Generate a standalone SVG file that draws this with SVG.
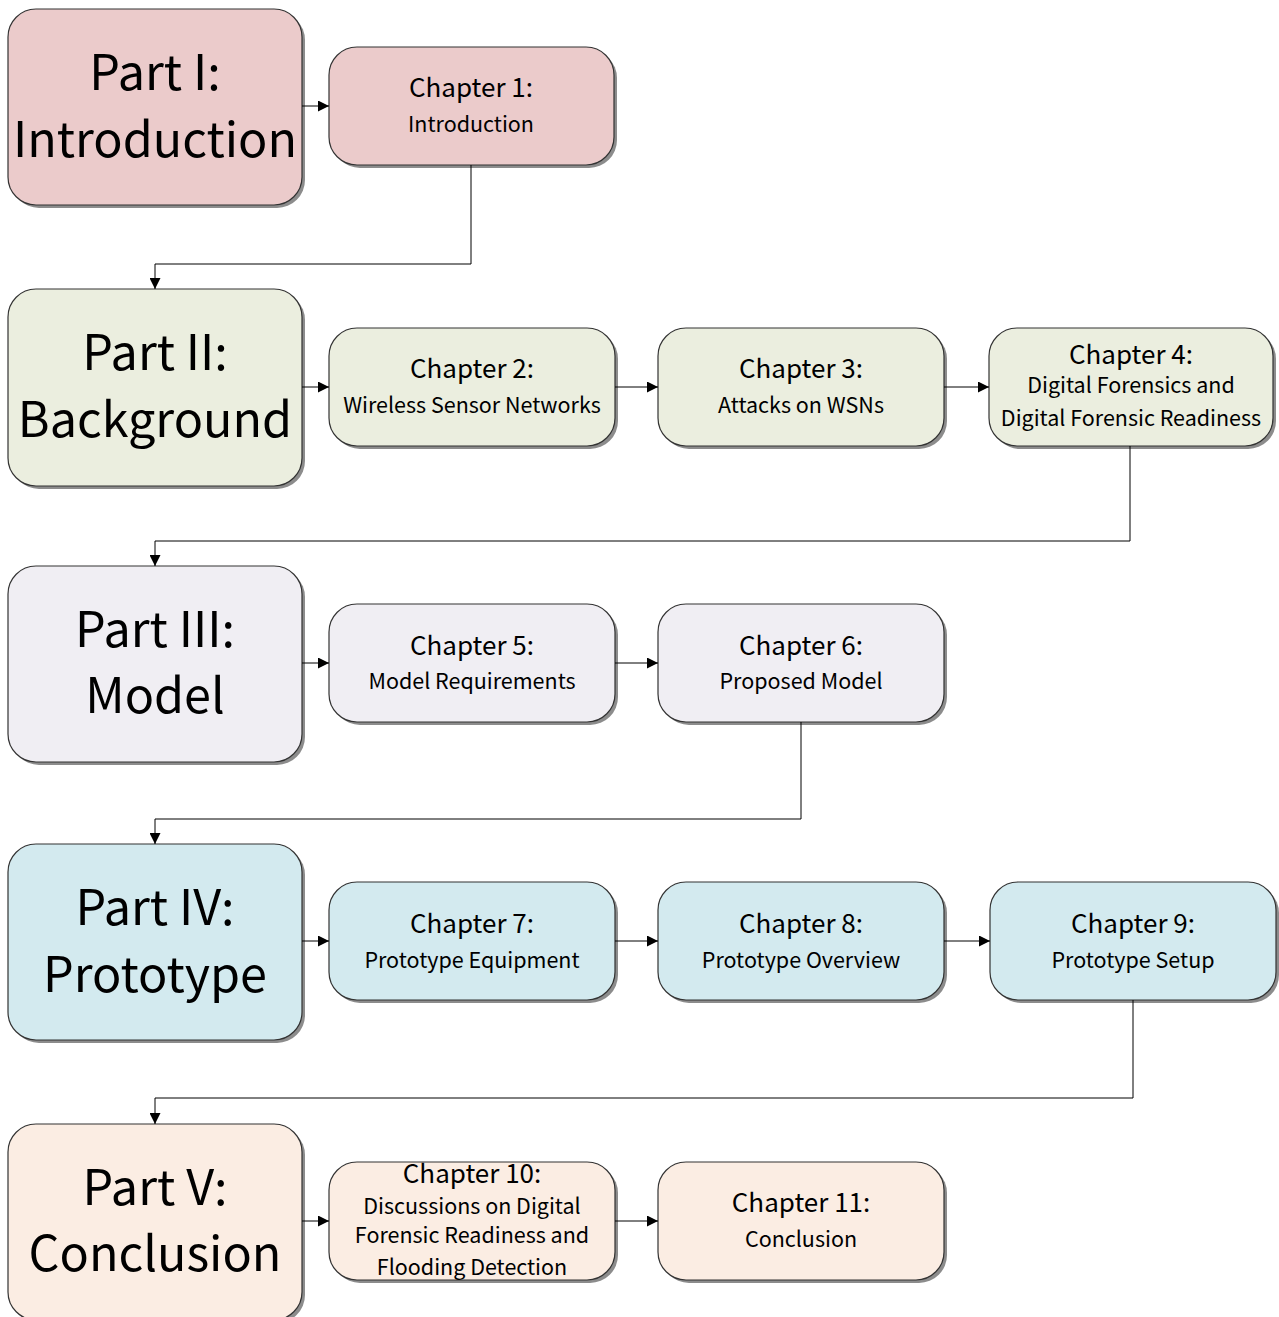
<svg xmlns="http://www.w3.org/2000/svg" width="1279" height="1317" viewBox="0 0 1279 1317">
  <defs>
    <marker id="arrow" viewBox="0 0 10 10" refX="10" refY="5" markerWidth="11" markerHeight="11" markerUnits="userSpaceOnUse" orient="auto">
      <path d="M0,0 L10,5 L0,10 z" fill="#000"/>
    </marker>
  </defs>
  <style>
    .shadow { fill: #8c8c8c; }
    .box { stroke: #333; stroke-width: 1.2; }
    .p1 { fill: #ebcbcb; }
    .p2 { fill: #ebeedf; }
    .p3 { fill: #f0eef3; }
    .p4 { fill: #d3eaef; }
    .p5 { fill: #fbede3; }
    text { font-family: "Noto Sans CJK JP", "DejaVu Sans", sans-serif; fill: #000; text-anchor: middle; }
    .pt { font-size: 48.5px; }
    .ct { font-size: 26px; }
    .cs { font-size: 21.5px; }
    .conn { fill: none; stroke: #000; stroke-width: 1; marker-end: url(#arrow); }
  </style>

  <!-- Part I -->
  <g id="part1">
    <rect class="shadow" x="11" y="12" width="294" height="196" rx="28"/>
    <rect class="box p1" x="8" y="9" width="294" height="196" rx="28"/>
    <text class="pt" x="155" y="90">Part I:</text>
    <text class="pt" x="155" y="157">Introduction</text>
  </g>
  <g id="ch1">
    <rect class="shadow" x="332" y="50" width="285" height="118" rx="28"/>
    <rect class="box p1" x="329" y="47" width="285" height="118" rx="28"/>
    <text class="ct" x="471" y="97">Chapter 1:</text>
    <text class="cs" x="471" y="132">Introduction</text>
  </g>

  <!-- Part II -->
  <g id="part2">
    <rect class="shadow" x="11" y="292" width="294" height="197" rx="28"/>
    <rect class="box p2" x="8" y="289" width="294" height="197" rx="28"/>
    <text class="pt" x="155" y="370">Part II:</text>
    <text class="pt" x="155" y="437">Background</text>
  </g>
  <g id="ch2">
    <rect class="shadow" x="332" y="331" width="286" height="118" rx="28"/>
    <rect class="box p2" x="329" y="328" width="286" height="118" rx="28"/>
    <text class="ct" x="472" y="378">Chapter 2:</text>
    <text class="cs" x="472" y="413">Wireless Sensor Networks</text>
  </g>
  <g id="ch3">
    <rect class="shadow" x="661" y="331" width="286" height="118" rx="28"/>
    <rect class="box p2" x="658" y="328" width="286" height="118" rx="28"/>
    <text class="ct" x="801" y="378">Chapter 3:</text>
    <text class="cs" x="801" y="413">Attacks on WSNs</text>
  </g>
  <g id="ch4">
    <rect class="shadow" x="992" y="331" width="284" height="118" rx="28"/>
    <rect class="box p2" x="989" y="328" width="284" height="118" rx="28"/>
    <text class="ct" x="1131" y="364">Chapter 4:</text>
    <text class="cs" x="1131" y="393">Digital Forensics and</text>
    <text class="cs" x="1131" y="426">Digital Forensic Readiness</text>
  </g>

  <!-- Part III -->
  <g id="part3">
    <rect class="shadow" x="11" y="569" width="294" height="196" rx="28"/>
    <rect class="box p3" x="8" y="566" width="294" height="196" rx="28"/>
    <text class="pt" x="155" y="647">Part III:</text>
    <text class="pt" x="155" y="713">Model</text>
  </g>
  <g id="ch5">
    <rect class="shadow" x="332" y="607" width="286" height="118" rx="28"/>
    <rect class="box p3" x="329" y="604" width="286" height="118" rx="28"/>
    <text class="ct" x="472" y="655">Chapter 5:</text>
    <text class="cs" x="472" y="689">Model Requirements</text>
  </g>
  <g id="ch6">
    <rect class="shadow" x="661" y="607" width="286" height="118" rx="28"/>
    <rect class="box p3" x="658" y="604" width="286" height="118" rx="28"/>
    <text class="ct" x="801" y="655">Chapter 6:</text>
    <text class="cs" x="801" y="689">Proposed Model</text>
  </g>

  <!-- Part IV -->
  <g id="part4">
    <rect class="shadow" x="11" y="847" width="294" height="196" rx="28"/>
    <rect class="box p4" x="8" y="844" width="294" height="196" rx="28"/>
    <text class="pt" x="155" y="925">Part IV:</text>
    <text class="pt" x="155" y="992">Prototype</text>
  </g>
  <g id="ch7">
    <rect class="shadow" x="332" y="885" width="286" height="118" rx="28"/>
    <rect class="box p4" x="329" y="882" width="286" height="118" rx="28"/>
    <text class="ct" x="472" y="933">Chapter 7:</text>
    <text class="cs" x="472" y="968">Prototype Equipment</text>
  </g>
  <g id="ch8">
    <rect class="shadow" x="661" y="885" width="286" height="118" rx="28"/>
    <rect class="box p4" x="658" y="882" width="286" height="118" rx="28"/>
    <text class="ct" x="801" y="933">Chapter 8:</text>
    <text class="cs" x="801" y="968">Prototype Overview</text>
  </g>
  <g id="ch9">
    <rect class="shadow" x="993" y="885" width="286" height="118" rx="28"/>
    <rect class="box p4" x="990" y="882" width="286" height="118" rx="28"/>
    <text class="ct" x="1133" y="933">Chapter 9:</text>
    <text class="cs" x="1133" y="968">Prototype Setup</text>
  </g>

  <!-- Part V -->
  <g id="part5">
    <rect class="shadow" x="11" y="1127" width="294" height="196" rx="28"/>
    <rect class="box p5" x="8" y="1124" width="294" height="196" rx="28"/>
    <text class="pt" x="155" y="1205">Part V:</text>
    <text class="pt" x="155" y="1271">Conclusion</text>
  </g>
  <g id="ch10">
    <rect class="shadow" x="332" y="1165" width="286" height="118" rx="28"/>
    <rect class="box p5" x="329" y="1162" width="286" height="118" rx="28"/>
    <text class="ct" x="472" y="1183">Chapter 10:</text>
    <text class="cs" x="472" y="1214">Discussions on Digital</text>
    <text class="cs" x="472" y="1243">Forensic Readiness and</text>
    <text class="cs" x="472" y="1275">Flooding Detection</text>
  </g>
  <g id="ch11">
    <rect class="shadow" x="661" y="1165" width="286" height="118" rx="28"/>
    <rect class="box p5" x="658" y="1162" width="286" height="118" rx="28"/>
    <text class="ct" x="801" y="1212">Chapter 11:</text>
    <text class="cs" x="801" y="1247">Conclusion</text>
  </g>

  <!-- Connectors -->
  <g id="connectors">
    <path class="conn" d="M302,106 H329"/>
    <path class="conn" d="M471,165 V264 H155 V289"/>
    <path class="conn" d="M302,387 H329"/>
    <path class="conn" d="M615,387 H658"/>
    <path class="conn" d="M944,387 H989"/>
    <path class="conn" d="M1130,446 V541 H155 V566"/>
    <path class="conn" d="M302,663 H329"/>
    <path class="conn" d="M615,663 H658"/>
    <path class="conn" d="M801,722 V819 H155 V844"/>
    <path class="conn" d="M302,941 H329"/>
    <path class="conn" d="M615,941 H658"/>
    <path class="conn" d="M944,941 H990"/>
    <path class="conn" d="M1133,1000 V1098 H155 V1124"/>
    <path class="conn" d="M302,1221 H329"/>
    <path class="conn" d="M615,1221 H658"/>
  </g>
</svg>
